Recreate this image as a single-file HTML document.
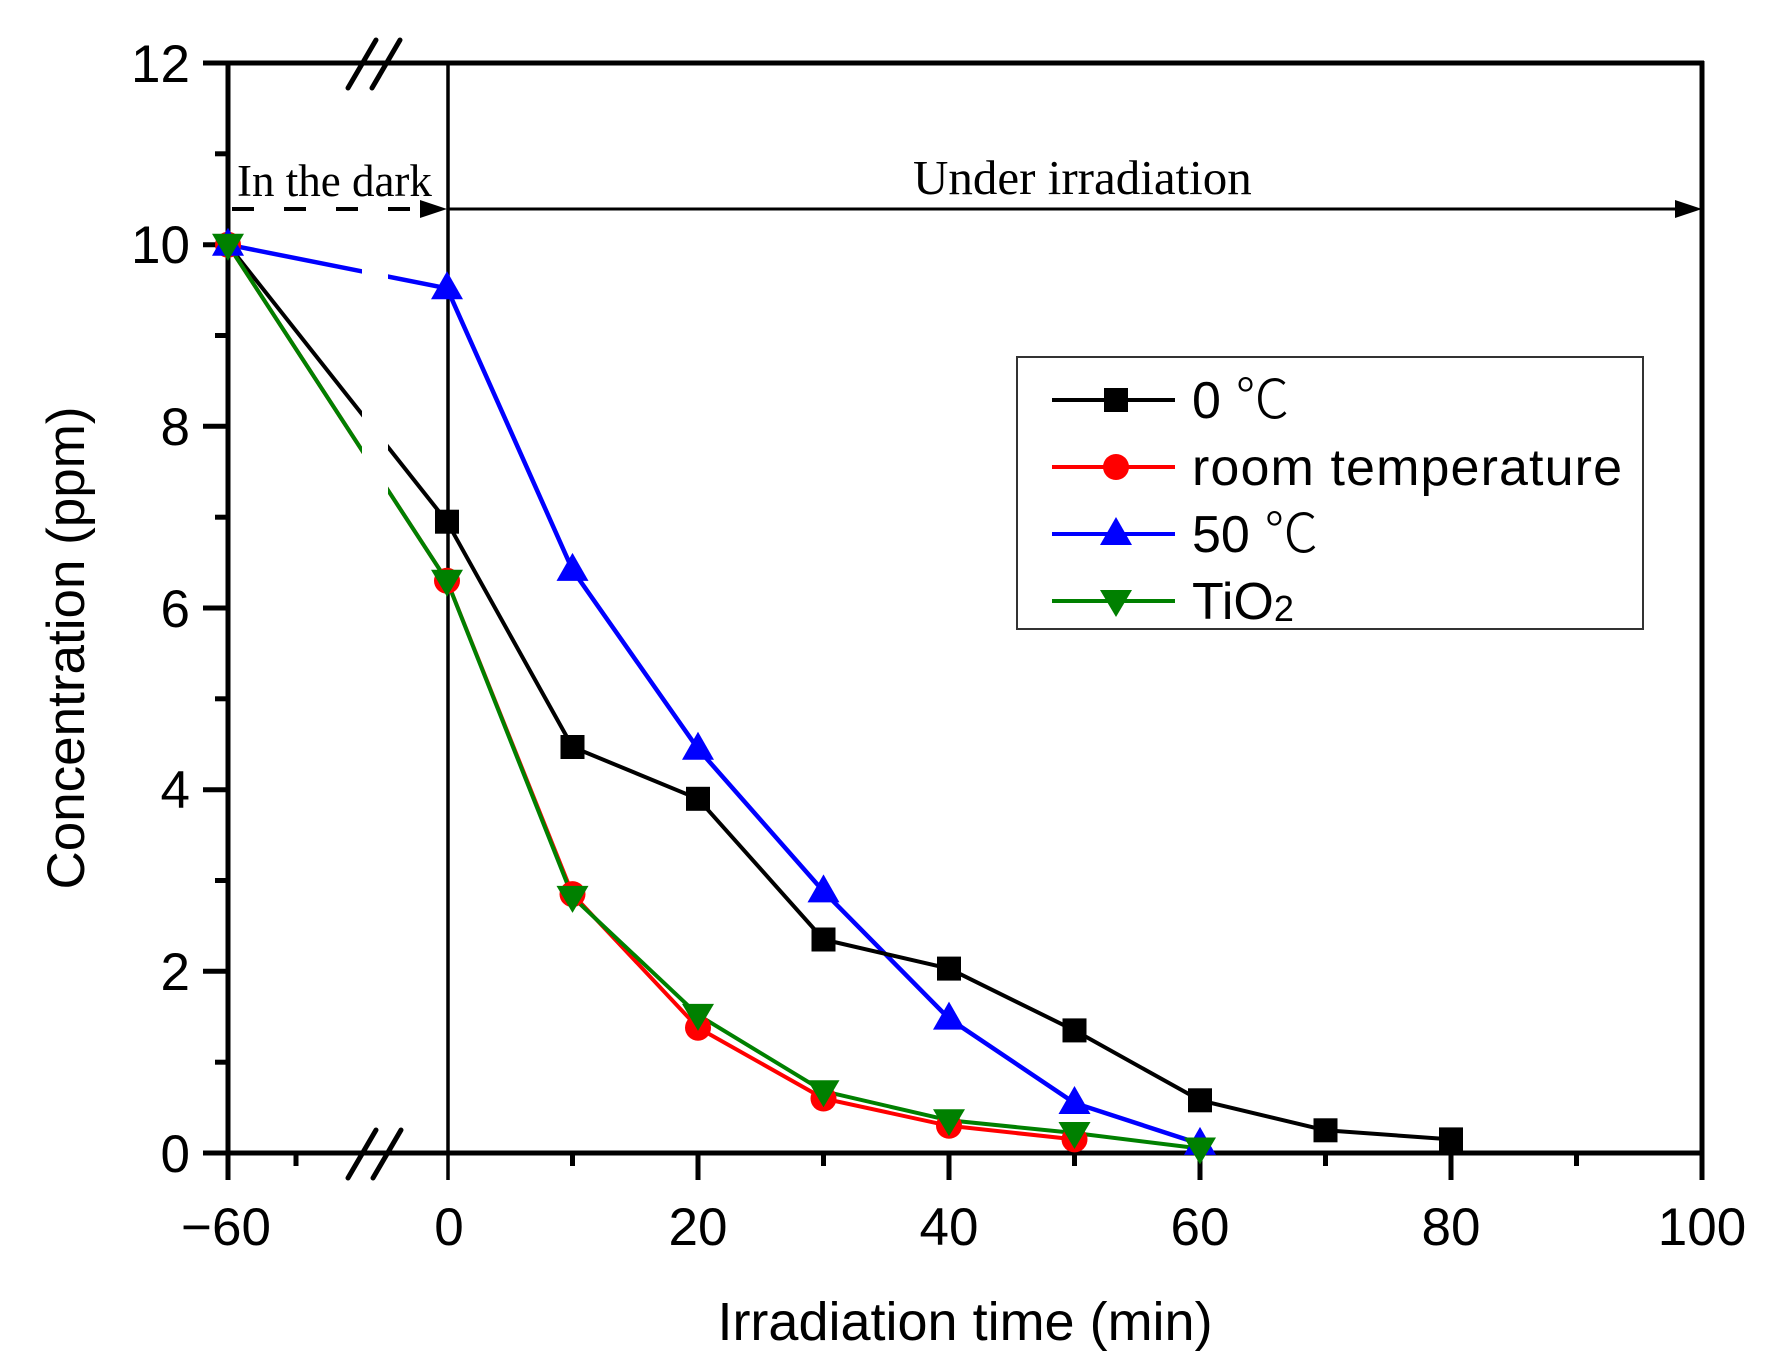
<!DOCTYPE html>
<html><head><meta charset="utf-8"><style>
html,body{margin:0;padding:0;background:#fff;}
svg{display:block;}
text{font-family:"Liberation Sans",Arial,sans-serif;}
</style></head><body>
<svg width="1780" height="1360" viewBox="0 0 1780 1360" xmlns="http://www.w3.org/2000/svg">
<defs>
<g id="sq"><rect x="-12" y="-12" width="24" height="24" fill="#000"/></g>
<g id="ci"><circle r="13" fill="#f00"/></g>
<g id="tu"><polygon points="0,-17 16,11 -16,11" fill="#00f"/></g>
<g id="td"><polygon points="0,16 16,-11 -16,-11" fill="#008000"/></g>
</defs>

<g stroke-width="4" fill="none">
<line x1="228" y1="244.7" x2="447" y2="521.7" stroke="#000"/>
<line x1="228" y1="244.7" x2="447" y2="580.8" stroke="#f00"/>
<line x1="228" y1="244.7" x2="447" y2="580.8" stroke="#008000"/>
<line x1="228" y1="244.7" x2="447" y2="288.3" stroke="#00f" stroke-width="4.5"/>
</g>
<rect x="362" y="230" width="26" height="380" fill="#fff"/>

<g stroke="#000" stroke-width="5" fill="none">
<line x1="203" y1="63" x2="1704" y2="63"/>
<line x1="228" y1="61" x2="228" y2="1155"/>
<line x1="203" y1="1153" x2="1704" y2="1153"/>
<line x1="1702" y1="61" x2="1702" y2="1180"/>
</g>
<line x1="448" y1="63" x2="448" y2="1180" stroke="#000" stroke-width="3.5"/>

<g stroke="#000" stroke-width="5">
<line x1="203" y1="63" x2="228" y2="63"/>
<line x1="203" y1="244.7" x2="228" y2="244.7"/>
<line x1="203" y1="426.3" x2="228" y2="426.3"/>
<line x1="203" y1="608" x2="228" y2="608"/>
<line x1="203" y1="789.7" x2="228" y2="789.7"/>
<line x1="203" y1="971.3" x2="228" y2="971.3"/>
<line x1="215" y1="153.8" x2="228" y2="153.8"/>
<line x1="215" y1="335.5" x2="228" y2="335.5"/>
<line x1="215" y1="517.2" x2="228" y2="517.2"/>
<line x1="215" y1="698.8" x2="228" y2="698.8"/>
<line x1="215" y1="880.5" x2="228" y2="880.5"/>
<line x1="215" y1="1062.2" x2="228" y2="1062.2"/>
<line x1="228" y1="1153" x2="228" y2="1180"/>
<line x1="698" y1="1153" x2="698" y2="1180"/>
<line x1="949" y1="1153" x2="949" y2="1180"/>
<line x1="1200" y1="1153" x2="1200" y2="1180"/>
<line x1="1451" y1="1153" x2="1451" y2="1180"/>
<line x1="296" y1="1153" x2="296" y2="1166"/>
<line x1="572.5" y1="1153" x2="572.5" y2="1166"/>
<line x1="823.5" y1="1153" x2="823.5" y2="1166"/>
<line x1="1074.5" y1="1153" x2="1074.5" y2="1166"/>
<line x1="1325.5" y1="1153" x2="1325.5" y2="1166"/>
<line x1="1576.5" y1="1153" x2="1576.5" y2="1166"/>
</g>
<g stroke="#000" stroke-width="5" stroke-linecap="round">
<line x1="348" y1="88" x2="376" y2="40"/>
<line x1="372" y1="88" x2="400" y2="40"/>
<line x1="348" y1="1178" x2="376" y2="1130"/>
<line x1="373" y1="1178" x2="401" y2="1130"/>
</g>

<line x1="232" y1="209" x2="425" y2="209" stroke="#000" stroke-width="4" stroke-dasharray="22,30"/>
<polygon points="420,200 447,209 420,218" fill="#000"/>
<line x1="448" y1="209" x2="1680" y2="209" stroke="#000" stroke-width="3"/>
<polygon points="1675,200 1702,209 1675,218" fill="#000"/>
<text x="237" y="196" font-size="45" style="font-family:'Liberation Serif',serif">In the dark</text>
<text x="913" y="194" font-size="49" style="font-family:'Liberation Serif',serif">Under irradiation</text>

<g fill="none" stroke-width="4" stroke-linejoin="round">
<polyline stroke="#f00" points="447,580.8 572.5,894.1 698,1027.7 823.5,1098.5 949,1125.8 1074.5,1139.4"/>
<polyline stroke="#008000" points="447,580.8 572.5,896.9 698,1014.9 823.5,1091.2 949,1120.3 1074.5,1133 1200,1148.5"/>
<polyline stroke="#00f" stroke-width="4.5" points="447,288.3 572.5,569.9 698,748.8 823.5,891.4 949,1018.6 1074.5,1103 1200,1143.9"/>
<polyline stroke="#000" points="447,521.7 572.5,747 698,798.8 823.5,939.5 949,968.6 1074.5,1030.4 1200,1100.3 1325.5,1130.3 1451,1139.4"/>
</g>
<g>
<use href="#ci" x="228" y="244.7"/><use href="#ci" x="447" y="580.8"/><use href="#ci" x="572.5" y="894.1"/><use href="#ci" x="698" y="1027.7"/><use href="#ci" x="823.5" y="1098.5"/><use href="#ci" x="949" y="1125.8"/><use href="#ci" x="1074.5" y="1139.4"/>
<use href="#tu" x="228" y="244.7"/><use href="#tu" x="447" y="288.3"/><use href="#tu" x="572.5" y="569.9"/><use href="#tu" x="698" y="748.8"/><use href="#tu" x="823.5" y="891.4"/><use href="#tu" x="949" y="1018.6"/><use href="#tu" x="1074.5" y="1103"/><use href="#tu" x="1200" y="1143.9"/>
<use href="#td" x="228" y="244.7"/><use href="#td" x="447" y="580.8"/><use href="#td" x="572.5" y="896.9"/><use href="#td" x="698" y="1014.9"/><use href="#td" x="823.5" y="1091.2"/><use href="#td" x="949" y="1120.3"/><use href="#td" x="1074.5" y="1133"/><use href="#td" x="1200" y="1148.5"/>
<use href="#sq" x="447" y="521.7"/><use href="#sq" x="572.5" y="747"/><use href="#sq" x="698" y="798.8"/><use href="#sq" x="823.5" y="939.5"/><use href="#sq" x="949" y="968.6"/><use href="#sq" x="1074.5" y="1030.4"/><use href="#sq" x="1200" y="1100.3"/><use href="#sq" x="1325.5" y="1130.3"/><use href="#sq" x="1451" y="1139.4"/>
</g>

<g font-size="53" fill="#000" text-anchor="end">
<text x="190" y="82">12</text>
<text x="190" y="263">10</text>
<text x="190" y="445">8</text>
<text x="190" y="627">6</text>
<text x="190" y="808">4</text>
<text x="190" y="990">2</text>
<text x="190" y="1172">0</text>
</g>
<g font-size="53" fill="#000" text-anchor="middle">
<text x="226" y="1245">−60</text>
<text x="449" y="1245">0</text>
<text x="698" y="1245">20</text>
<text x="949" y="1245">40</text>
<text x="1200" y="1245">60</text>
<text x="1451" y="1245">80</text>
<text x="1702" y="1245">100</text>
</g>
<text x="965" y="1340" font-size="54" text-anchor="middle">Irradiation time (min)</text>
<text transform="translate(84,648) rotate(-90)" font-size="53" text-anchor="middle">Concentration (ppm)</text>

<rect x="1017" y="357" width="626" height="272" fill="#fff" stroke="#333" stroke-width="2"/>
<g stroke-width="4">
<line x1="1052" y1="400" x2="1175" y2="400" stroke="#000"/>
<line x1="1052" y1="467" x2="1175" y2="467" stroke="#f00"/>
<line x1="1052" y1="534" x2="1175" y2="534" stroke="#00f"/>
<line x1="1052" y1="601" x2="1175" y2="601" stroke="#008000"/>
</g>
<use href="#sq" x="1116" y="400"/><use href="#ci" x="1116" y="467"/><use href="#tu" x="1116" y="534"/><use href="#td" x="1116" y="601"/>
<g font-size="52" fill="#000">
<text x="1192" y="418">0 <tspan style="font-family:'Noto Sans CJK SC',sans-serif" font-weight="300" font-size="54">℃</tspan></text>
<text x="1192" y="485" textLength="430">room temperature</text>
<text x="1192" y="552">50 <tspan style="font-family:'Noto Sans CJK SC',sans-serif" font-weight="300" font-size="54">℃</tspan></text>
<text x="1192" y="619">TiO<tspan font-size="36" dy="2">2</tspan></text>
</g>
</svg>
</body></html>
